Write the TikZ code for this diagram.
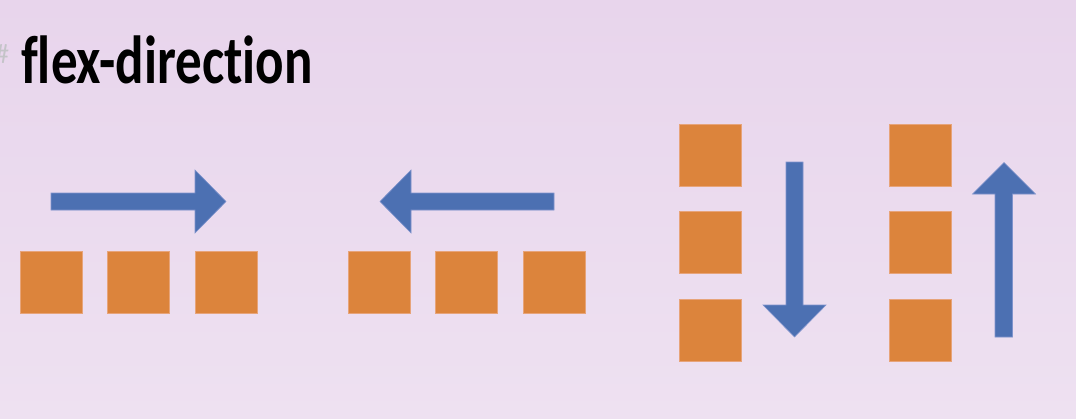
\documentclass[tikz,border=0pt]{standalone}
\usepackage{fontspec}
\setmainfont{Carlito}
\newfontfamily\titlefont[FakeStretch=0.78, Ligatures=CommonOff]{Carlito}
\definecolor{bgtop}{HTML}{E8D5EC}
\definecolor{bgbot}{HTML}{EEE1F1}
\definecolor{boxorange}{HTML}{DC843C}
\definecolor{boxedge}{HTML}{E7A47A}
\definecolor{arrowblue}{HTML}{4C70B2}
\definecolor{arrowedge}{HTML}{7F93CC}
\definecolor{hashgrey}{HTML}{C4C4C8}
\tikzset{
  item/.style={draw=boxedge, line width=0.8pt, fill=boxorange, minimum width=62pt, minimum height=62pt, inner sep=0pt, anchor=north west},
  bigarrow/.style={fill=arrowblue, draw=arrowedge, line width=0.6pt}
}
\begin{document}
\begin{tikzpicture}[x=1pt,y=-1pt]
\useasboundingbox (0,0) rectangle (1076,418);
\shade[top color=bgtop, bottom color=bgbot] (0,0) rectangle (1076,418);
% title
\node[anchor=base west, inner sep=0pt, text=hashgrey, font=\fontsize{28}{28}\selectfont] (hash) at (-5,63) {\#};
\node[anchor=base west, inner sep=0pt, font=\titlefont\bfseries\fontsize{68}{68}\selectfont] (title) at (21,83) {flex-direction};
% row
\node[item] (r1) at (20,251) {};
\node[item] (r2) at (107,251) {};
\node[item] (r3) at (195,251) {};
% row-reverse
\node[item] (rr1) at (348,251) {};
\node[item] (rr2) at (435,251) {};
\node[item] (rr3) at (523,251) {};
% column
\node[item] (c1) at (679,124) {};
\node[item] (c2) at (679,211) {};
\node[item] (c3) at (679,299) {};
% column-reverse
\node[item] (cr1) at (889,124) {};
\node[item] (cr2) at (889,211) {};
\node[item] (cr3) at (889,299) {};
% arrows
\draw[bigarrow] (51,193) -- (195,193) -- (195,170) -- (226,201.5) -- (195,233) -- (195,210) -- (51,210) -- cycle;
\draw[bigarrow] (554,193) -- (411,193) -- (411,170) -- (380,201.5) -- (411,233) -- (411,210) -- (554,210) -- cycle;
\draw[bigarrow] (786,162) -- (803,162) -- (803,305) -- (826,305) -- (794.5,337) -- (763,305) -- (786,305) -- cycle;
\draw[bigarrow] (995,337) -- (1012.5,337) -- (1012.5,194) -- (1035.5,194) -- (1004,162.5) -- (972.5,194) -- (995,194) -- cycle;
\end{tikzpicture}
\end{document}
